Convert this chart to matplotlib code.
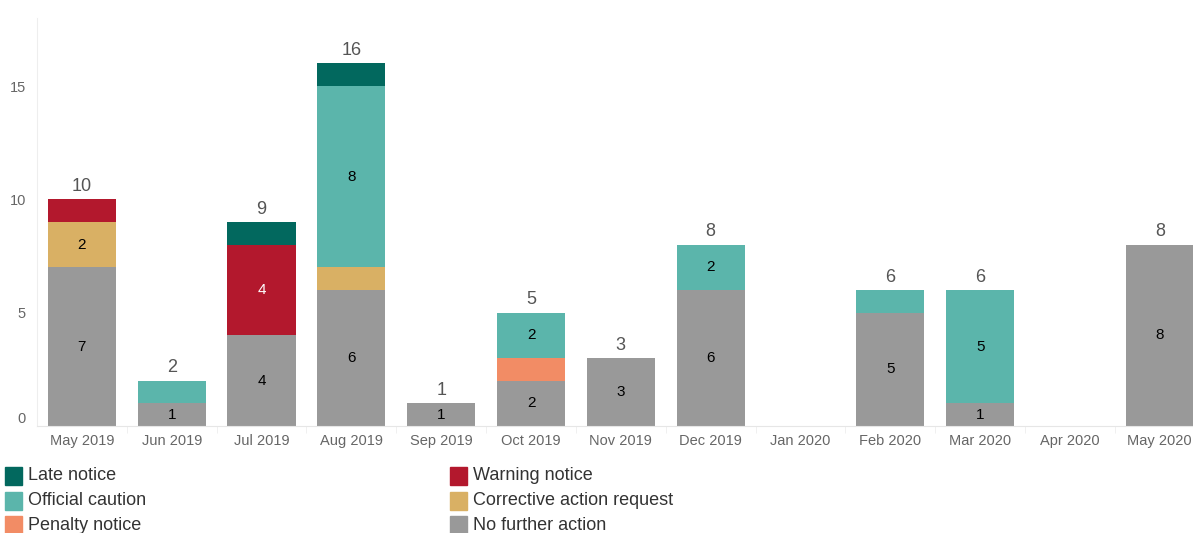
import numpy as np
import matplotlib.pyplot as plt
from matplotlib.patches import Rectangle

plt.rcParams['font.family'] = ['Liberation Sans', 'DejaVu Sans']

months = ['May 2019', 'Jun 2019', 'Jul 2019', 'Aug 2019', 'Sep 2019', 'Oct 2019',
          'Nov 2019', 'Dec 2019', 'Jan 2020', 'Feb 2020', 'Mar 2020', 'Apr 2020', 'May 2020']

# stack order bottom -> top
no_further_action = [7, 1, 4, 6, 1, 2, 3, 6, 0, 5, 1, 0, 8]
penalty_notice    = [0, 0, 0, 0, 0, 1, 0, 0, 0, 0, 0, 0, 0]
corrective_action = [2, 0, 0, 1, 0, 0, 0, 0, 0, 0, 0, 0, 0]
warning_notice    = [1, 0, 4, 0, 0, 0, 0, 0, 0, 0, 0, 0, 0]
official_caution  = [0, 1, 0, 8, 0, 2, 0, 2, 0, 1, 5, 0, 0]
late_notice       = [0, 0, 1, 1, 0, 0, 0, 0, 0, 0, 0, 0, 0]

series = [
    ('No further action', no_further_action, '#999999', 'black'),
    ('Penalty notice', penalty_notice, '#F28C65', 'black'),
    ('Corrective action request', corrective_action, '#D9B064', 'black'),
    ('Warning notice', warning_notice, '#B3182D', 'white'),
    ('Official caution', official_caution, '#5BB5AB', 'black'),
    ('Late notice', late_notice, '#02685E', 'white'),
]
colors = {name: c for name, _, c, _ in series}

fig = plt.figure(figsize=(11.93, 5.33), dpi=100)
ax = fig.add_axes([0.031, 0.2007, 0.969, 0.7653])

x = np.arange(len(months))
bottom = np.zeros(len(months))
for name, vals, color, tcolor in series:
    vals = np.array(vals)
    ax.bar(x, vals, bottom=bottom, width=0.76, color=color, linewidth=0)
    for xi, v, b in zip(x, vals, bottom):
        if v >= 2 or (name == 'No further action' and v > 0):
            ax.text(xi, b + v / 2, str(v), ha='center', va='center',
                    fontsize=11, color=tcolor)
    bottom += vals

for xi, tot in zip(x, bottom):
    if tot > 0:
        ax.text(xi, tot + 0.2, str(int(tot)), ha='center', va='bottom',
                fontsize=13, color='#555555')

ax.set_xlim(-0.5, 12.37)
ax.set_ylim(0, 18)
ax.set_yticks([0, 5, 10, 15])
ax.set_xticks(x)
ax.set_xticklabels(months)
ax.set_xticks(x[:-1] + 0.5, minor=True)
ax.tick_params(axis='both', length=0, labelsize=10.5, labelcolor='#666666')
ax.tick_params(axis='x', which='minor', length=5, color='#eeeeee')
ax.tick_params(axis='x', pad=6)
ax.tick_params(axis='y', pad=8)
ax.get_yticklabels()[0].set_va('bottom')
for s in ['top', 'right']:
    ax.spines[s].set_visible(False)
ax.spines['left'].set_color('#eeeeee')
ax.spines['bottom'].set_color('#e6e6e6')

# legend
legend_order = ['Late notice', 'Warning notice', 'Official caution',
                'Corrective action request', 'Penalty notice', 'No further action']
W, H = 1193, 533
for i, name in enumerate(legend_order):
    col, row = i % 2, i // 2
    x0 = 5 if col == 0 else 450
    yc = 476 + row * 24.5
    fig.patches.append(Rectangle((x0 / W, 1 - (yc + 9) / H), 17 / W, 18 / H,
                                 transform=fig.transFigure, color=colors[name]))
    fig.text((x0 + 23) / W, 1 - yc / H, name, ha='left', va='center',
             fontsize=13, color='#333333')

fig.savefig('out.png', dpi=100)
